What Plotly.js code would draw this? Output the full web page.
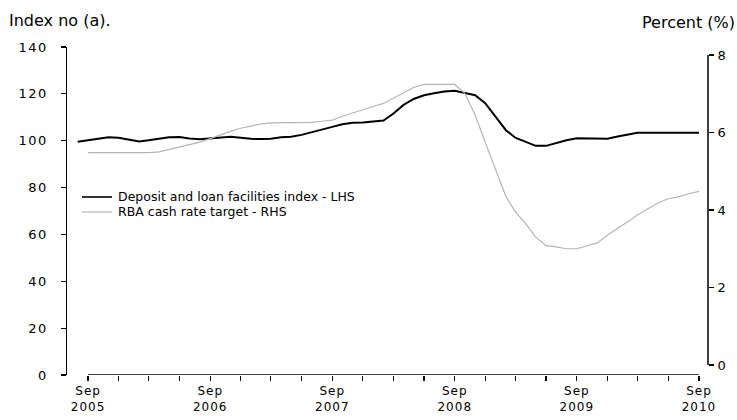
<!DOCTYPE html>
<html>
<head>
<meta charset="utf-8">
<script src="https://cdn.plot.ly/plotly-3.0.1.min.js"></script>
<style>
html,body{margin:0;padding:0;background:#fff;}
#chart{width:737px;height:420px;}
#chart g.ytick text, #chart g.y2tick text { letter-spacing: 1.5px; }
#chart g.xtick text { letter-spacing: 1px; }
</style>
</head>
<body>
<div id="chart"></div>
<script>
// Monthly observations, Aug 2005 .. Sep 2010
const months = [
 "2005-08-01","2005-09-01","2005-10-01","2005-11-01","2005-12-01",
 "2006-01-01","2006-02-01","2006-03-01","2006-04-01","2006-05-01","2006-06-01","2006-07-01","2006-08-01","2006-09-01","2006-10-01","2006-11-01","2006-12-01",
 "2007-01-01","2007-02-01","2007-03-01","2007-04-01","2007-05-01","2007-06-01","2007-07-01","2007-08-01","2007-09-01","2007-10-01","2007-11-01","2007-12-01",
 "2008-01-01","2008-02-01","2008-03-01","2008-04-01","2008-05-01","2008-06-01","2008-07-01","2008-08-01","2008-09-01","2008-10-01","2008-11-01","2008-12-01",
 "2009-01-01","2009-02-01","2009-03-01","2009-04-01","2009-05-01","2009-06-01","2009-07-01","2009-08-01","2009-09-01","2009-10-01","2009-11-01","2009-12-01",
 "2010-01-01","2010-02-01","2010-03-01","2010-04-01","2010-05-01","2010-06-01","2010-07-01","2010-08-01","2010-09-01"
];
// Deposit and loan facilities index (LHS)
const depositIndex = [
 99.6,100.2,100.6,101.5,101.3,
 100.5,99.7,100.2,100.8,101.5,101.6,100.9,100.6,101.0,101.5,101.7,101.3,
 100.8,100.7,100.8,101.5,101.7,102.5,103.7,104.9,105.9,107.0,107.7,107.8,
 108.3,108.6,111.5,115.3,117.8,119.4,120.3,121.0,121.3,120.5,119.4,116.0,
 110.5,104.5,101.3,99.5,97.8,97.8,99.0,100.2,101.0,101.0,100.8,100.8,
 101.8,102.5,103.4,103.4,103.4,103.4,103.4,103.4,103.4
];
// RBA cash rate target (RHS), %
const cashRate = [
 null,5.48,5.48,5.48,5.48,
 5.48,5.48,5.48,5.50,5.56,5.63,5.69,5.75,5.84,5.94,6.03,6.11,
 6.17,6.22,6.25,6.25,6.25,6.25,6.26,6.29,6.32,6.42,6.51,6.59,
 6.67,6.75,6.88,7.02,7.16,7.24,7.24,7.24,7.24,7.01,6.45,5.75,
 5.05,4.35,3.95,3.65,3.30,3.08,3.05,3.00,3.00,3.08,3.15,3.35,
 3.52,3.70,3.87,4.03,4.18,4.29,4.34,4.42,4.48
];
const xTickVals = ["2005-09-01","2006-09-01","2007-09-01","2008-09-01","2009-09-01","2010-09-01"];
const xTickText = ["Sep<br>2005","Sep<br>2006","Sep<br>2007","Sep<br>2008","Sep<br>2009","Sep<br>2010"];
const leftTicks = [0,20,40,60,80,100,120,140];
const rightTicks = [0,2,4,6,8];
const seriesNames = ["Deposit and loan facilities index - LHS","RBA cash rate target - RHS"];
const seriesColors = ["#000000","#b4b4b4"];

const font = "DejaVu Sans, Verdana, sans-serif";

const traces = [
 {x: months, y: depositIndex, name: seriesNames[0], type: "scatter", mode: "lines",
  line: {color: seriesColors[0], width: 2}, yaxis: "y"},
 {x: months, y: cashRate, name: seriesNames[1], type: "scatter", mode: "lines",
  line: {color: seriesColors[1], width: 1.2}, yaxis: "y2"}
];

// legend drawn by hand so that row spacing matches the original
const legendShapes = [];
const legendNotes = [];
const legX0 = 0.0234, legX1 = 0.0702, legTx = 0.0765;
const legY = [0.5427, 0.4970];
for (let i = 0; i < seriesNames.length; i++) {
 legendShapes.push({type: "line", xref: "paper", yref: "paper", x0: legX0, x1: legX1, y0: legY[i], y1: legY[i],
  line: {color: seriesColors[i], width: i === 0 ? 1.6 : 1.2}});
 legendNotes.push({text: seriesNames[i], xref: "paper", yref: "paper", x: legTx, y: legY[i],
  xanchor: "left", yanchor: "middle", showarrow: false, font: {family: font, size: 12.5, color: "#000"}});
}

const layout = {
 width: 737, height: 420,
 margin: {l: 67, r: 29, t: 47, b: 45},
 paper_bgcolor: "#ffffff", plot_bgcolor: "#ffffff",
 font: {family: font, size: 12, color: "#000"},
 showlegend: false,
 xaxis: {
  type: "date", range: ["2005-06-30", "2010-09-28"],
  tickvals: xTickVals, ticktext: xTickText,
  ticks: "outside", ticklen: 5, tickwidth: 1.2, tickcolor: "#000",
  minor: {dtick: "M3", tick0: "2005-09-01", ticks: "outside", ticklen: 5, tickwidth: 1.2, tickcolor: "#000"},
  showline: false, showgrid: false, zeroline: false,
  tickfont: {family: font, size: 12, color: "#000"}
 },
 yaxis: {
  range: [0, 140], tickvals: leftTicks, ticks: "outside", ticklen: 5, tickwidth: 1.2, tickcolor: "#000",
  showline: true, linecolor: "#000", linewidth: 1.5, showgrid: false, zeroline: false,
  ticklabelstandoff: 10,
  tickfont: {family: font, size: 13, color: "#000"}
 },
 yaxis2: {
  overlaying: "y", side: "right",
  range: [-0.258, 8.206], tickvals: rightTicks, ticks: "outside", ticklen: 5, tickwidth: 1.2, tickcolor: "#000",
  showline: false, showgrid: false, zeroline: false,
  ticklabelstandoff: 1,
  tickfont: {family: font, size: 13, color: "#000"}
 },
 shapes: [
  {type: "line", xref: "x", yref: "y", x0: xTickVals[0], x1: xTickVals[xTickVals.length-1], y0: 0, y1: 0,
   line: {color: "#000", width: 1.5}},
  {type: "line", xref: "paper", yref: "y2", x0: 1, x1: 1, y0: rightTicks[0], y1: rightTicks[rightTicks.length-1],
   line: {color: "#000", width: 1.5}}
 ].concat(legendShapes),
 annotations: [
  {text: "Index no (a).", xref: "paper", yref: "paper", x: -0.094, y: 1.08, xanchor: "left", yanchor: "middle",
   showarrow: false, font: {family: font, size: 16, color: "#000"}},
  {text: "Percent (%)", xref: "paper", yref: "paper", x: 1.045, y: 1.074, xanchor: "right", yanchor: "middle",
   showarrow: false, font: {family: font, size: 16, color: "#000"}}
 ].concat(legendNotes)
};

Plotly.newPlot("chart", traces, layout, {displayModeBar: false, staticPlot: true});
</script>
</body>
</html>
